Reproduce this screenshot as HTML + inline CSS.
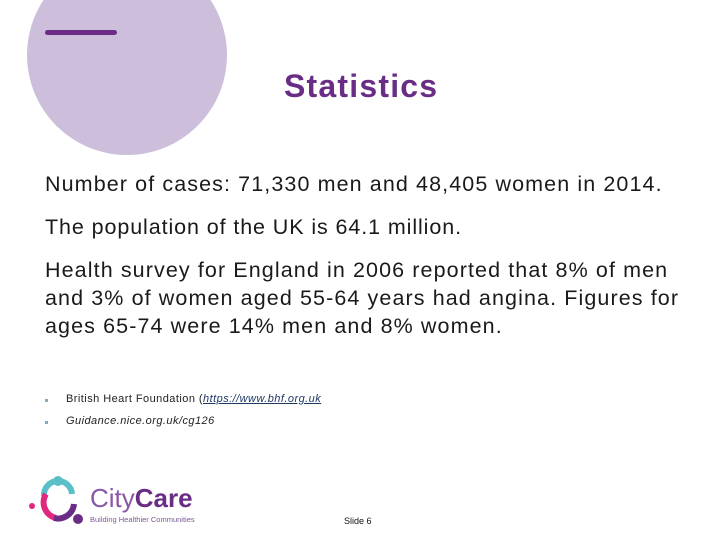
<!DOCTYPE html>
<html><head><meta charset="utf-8"><style>
body{margin:0;width:720px;height:540px;background:#fff;position:relative;overflow:hidden;font-family:"Liberation Sans",sans-serif}
.a{position:absolute}
.p{font-size:21.5px;color:#1a1a1a;left:45px;line-height:28px;letter-spacing:1.1px;white-space:nowrap}
.b{font-size:11px;color:#222;left:66px;letter-spacing:0.45px}
.dot{left:45px;width:3px;height:3px;background:#8ab}
</style></head><body>
<div class="a" style="left:27px;top:-45px;width:200px;height:200px;border-radius:50%;background:#cdbfdc"></div>
<div class="a" style="left:45px;top:30px;width:72px;height:5px;border-radius:3px;background:#6b2c86"></div>
<div class="a" style="left:284px;top:68px;font-size:32px;font-weight:bold;color:#6a2d86;letter-spacing:1.2px">Statistics</div>
<div class="a p" style="top:170px">Number of cases: 71,330 men and 48,405 women in 2014.</div>
<div class="a p" style="top:213px;letter-spacing:0.9px">The population of the UK is 64.1 million.</div>
<div class="a p" style="top:256px">Health survey for England in 2006 reported that 8% of men<br>and 3% of women aged 55-64 years had angina. Figures for<br>ages 65-74 were 14% men and 8% women.</div>
<div class="a dot" style="top:399px"></div>
<div class="a b" style="top:393px">British Heart Foundation (<a style="color:#1f3864;font-style:italic;text-decoration:underline">https://www.bhf.org.uk</a></div>
<div class="a dot" style="top:421px"></div>
<div class="a b" style="top:415px;font-style:italic">Guidance.nice.org.uk/cg126</div>
<svg class="a" style="left:26px;top:472px" width="180" height="56">
<circle cx="32" cy="9" r="5" fill="#5bbfc8"/>
<path d="M18 24 A14 14 0 0 1 46 22" stroke="#5bbfc8" stroke-width="6" fill="none"/>
<path d="M20 22 A16 16 0 0 0 30 46" stroke="#e0287f" stroke-width="6" fill="none"/>
<path d="M28 46 A16 16 0 0 0 48 32" stroke="#6b2c86" stroke-width="6" fill="none"/>
<circle cx="6" cy="34" r="3" fill="#e0287f"/>
<circle cx="52" cy="47" r="5" fill="#6b2c86"/>
<text x="64" y="35" font-family="Liberation Sans,sans-serif" font-size="26" fill="#8a56a8">City<tspan font-weight="bold" fill="#6b2c86">Care</tspan></text>
<text x="64" y="50" font-family="Liberation Sans,sans-serif" font-size="7.5" fill="#7a5a9a">Building Healthier Communities</text>
</svg>
<div class="a" style="left:344px;top:516px;font-size:9px;color:#111">Slide 6</div>
</body></html>
